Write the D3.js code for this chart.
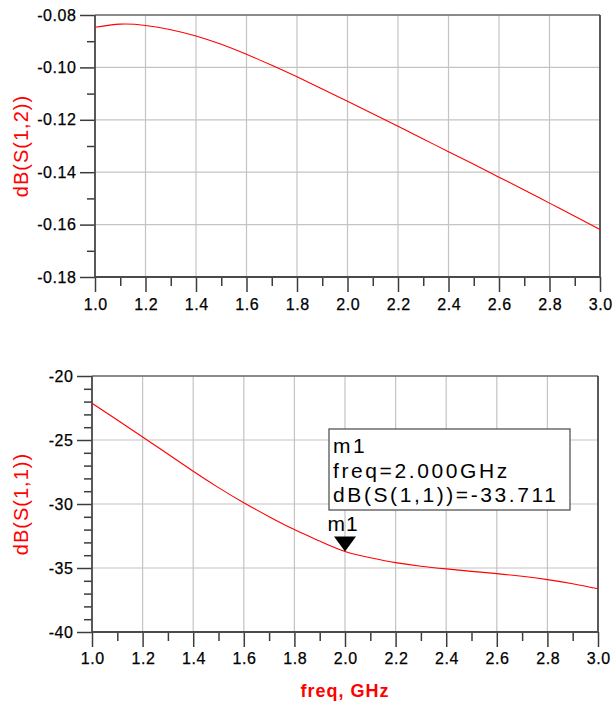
<!DOCTYPE html>
<html><head><meta charset="utf-8">
<script src="https://cdn.jsdelivr.net/npm/d3@7"></script>
<style>
body{margin:0;background:#fff;}
svg{display:block;font-family:Arial,"Liberation Sans",sans-serif;}
</style></head><body>
<svg id="c" width="613" height="707"></svg>
<script>
// ---- data ----
const freq = [1.0,1.1,1.2,1.3,1.4,1.5,1.6,1.7,1.8,1.9,2.0,2.1,2.2,2.3,2.4,2.5,2.6,2.7,2.8,2.9,3.0];
const s12 = [-0.0847,-0.0835,-0.0840,-0.0856,-0.0880,-0.0912,-0.0950,-0.0992,-0.1036,-0.1082,-0.1129,-0.1177,-0.1225,-0.1273,-0.1322,-0.1370,-0.1419,-0.1468,-0.1518,-0.1568,-0.1619];
const s11 = [-22.13,-23.44,-24.76,-26.10,-27.44,-28.72,-29.90,-30.99,-32.00,-32.90,-33.711,-34.20,-34.58,-34.86,-35.07,-35.26,-35.44,-35.65,-35.91,-36.23,-36.62];
const xTicks = [1.0,1.2,1.4,1.6,1.8,2.0,2.2,2.4,2.6,2.8,3.0];
const xMinor = [1.1,1.3,1.5,1.7,1.9,2.1,2.3,2.5,2.7,2.9];
const yTicksTop = [-0.18,-0.16,-0.14,-0.12,-0.10,-0.08];
const yMinorTop = [-0.17,-0.15,-0.13,-0.11,-0.09];
const yTicksBot = [-40,-35,-30,-25,-20];
const yMinorBot = [-39,-38,-37,-36,-34,-33,-32,-31,-29,-28,-27,-26,-24,-23,-22,-21];
const marker = {name:"m1", freq:2.0, value:-33.711, yname:"dB(S(1,1))"};

const svg = d3.select("#c");
const hy = f => d => f(d).replace("\u2212","-");

function panel(opt){
  const {x0,x1,y0,y1,yDom,yT,yMin,yFmt,data,ylabel,ylabelY,xPad} = opt;
  const x = d3.scaleLinear().domain([1,3]).range([x0,x1]);
  const y = d3.scaleLinear().domain(yDom).range([y1,y0]);
  const g = svg.append("g");
  // grid
  g.append("g").selectAll("line").data(xTicks).join("line")
    .attr("x1",d=>x(d)).attr("x2",d=>x(d)).attr("y1",y0).attr("y2",y1)
    .attr("stroke","#c4c4c4").attr("stroke-width",1.2);
  g.append("g").selectAll("line").data(yT).join("line")
    .attr("x1",x0).attr("x2",x1).attr("y1",d=>y(d)).attr("y2",d=>y(d))
    .attr("stroke","#c4c4c4").attr("stroke-width",1.2);
  // border top/right
  g.append("line").attr("x1",x0).attr("x2",x1).attr("y1",y0).attr("y2",y0).attr("stroke","#6e6e6e").attr("stroke-width",1.6);
  g.append("line").attr("x1",x1).attr("x2",x1).attr("y1",y0).attr("y2",y1).attr("stroke","#3a3a3a").attr("stroke-width",1.6);
  // minor ticks
  const ml = g.append("g").attr("transform",`translate(${x0},0)`).call(d3.axisLeft(y).tickValues(yMin).tickSize(8).tickFormat(""));
  const mb = g.append("g").attr("transform",`translate(0,${y1})`).call(d3.axisBottom(x).tickValues(xMinor).tickSize(9).tickFormat(""));
  // major axes
  const al = g.append("g").attr("transform",`translate(${x0},0)`).call(d3.axisLeft(y).tickValues(yT).tickSize(15).tickPadding(4).tickFormat(hy(yFmt)));
  const ab = g.append("g").attr("transform",`translate(0,${y1})`).call(d3.axisBottom(x).tickValues(xTicks).tickSize(15).tickPadding(xPad).tickFormat(d3.format(".1f")));
  [ml,mb,al,ab].forEach(a=>{
    a.attr("font-family","Arial, 'Liberation Sans', sans-serif").attr("font-size",16);
    a.select(".domain").remove();
    a.selectAll(".tick line").attr("stroke","#3c3c3c").attr("stroke-width",1.5);
    a.selectAll("text").attr("fill","#000").attr("stroke","#000").attr("stroke-width",0.25).attr("letter-spacing","0.6px");
  });
  al.selectAll("text").attr("dx","0.6px");
  ab.selectAll("text").attr("dx","0.3px");
  // axis lines
  g.append("line").attr("x1",x0).attr("x2",x0).attr("y1",y0).attr("y2",y1).attr("stroke","#4a4a4a").attr("stroke-width",1.8);
  g.append("line").attr("x1",x0).attr("x2",x1).attr("y1",y1).attr("y2",y1).attr("stroke","#4a4a4a").attr("stroke-width",1.8);
  // curve
  const line = d3.line().x((d,i)=>x(freq[i])).y(d=>y(d)).curve(d3.curveNatural);
  g.append("path").datum(data).attr("d",line).attr("fill","none").attr("stroke","#ff0000").attr("stroke-width",1.1);
  // y label
  g.append("text").attr("transform",`translate(28,${ylabelY}) rotate(-90)`)
    .attr("text-anchor","middle").attr("fill","#ff0000").attr("font-size",20).attr("letter-spacing","1px").text(ylabel);
  return {x,y,g};
}

panel({x0:95,x1:600,y0:15,y1:277,yDom:[-0.18,-0.08],yT:yTicksTop,yMin:yMinorTop,yFmt:d3.format(".2f"),data:s12,ylabel:"dB(S(1,2))",ylabelY:146,xPad:7});
const bot = panel({x0:92,x1:598,y0:376,y1:632,yDom:[-40,-20],yT:yTicksBot,yMin:yMinorBot,yFmt:d3.format("d"),data:s11,ylabel:"dB(S(1,1))",ylabelY:504,xPad:6});

// marker
const mx = bot.x(marker.freq), my = bot.y(marker.value);
bot.g.append("path").attr("d",`M${mx-11},${my-15}L${mx+11},${my-15}L${mx},${my}Z`).attr("fill","#000");
bot.g.append("text").attr("x",mx-2).attr("y",my-21).attr("text-anchor","middle").attr("font-size",21).attr("letter-spacing","1px").text(marker.name);
// readout box
bot.g.append("rect").attr("x",329).attr("y",429).attr("width",241).attr("height",81).attr("fill","#fff").attr("stroke","#555").attr("stroke-width",1.3);
const lines = [marker.name, "freq=" + marker.freq.toFixed(3) + "GHz", marker.yname + "=" + marker.value.toFixed(3)];
bot.g.append("g").selectAll("text").data(lines).join("text")
  .attr("x",333).attr("y",(d,i)=>453+i*24.5).attr("font-size",21).attr("letter-spacing","2.6px").text(d=>d);

// x label
svg.append("text").attr("x",345).attr("y",697).attr("text-anchor","middle").attr("fill","#ff0000")
  .attr("font-size",18).attr("font-weight","bold").attr("letter-spacing","1px").text("freq, GHz");
</script></body></html>
